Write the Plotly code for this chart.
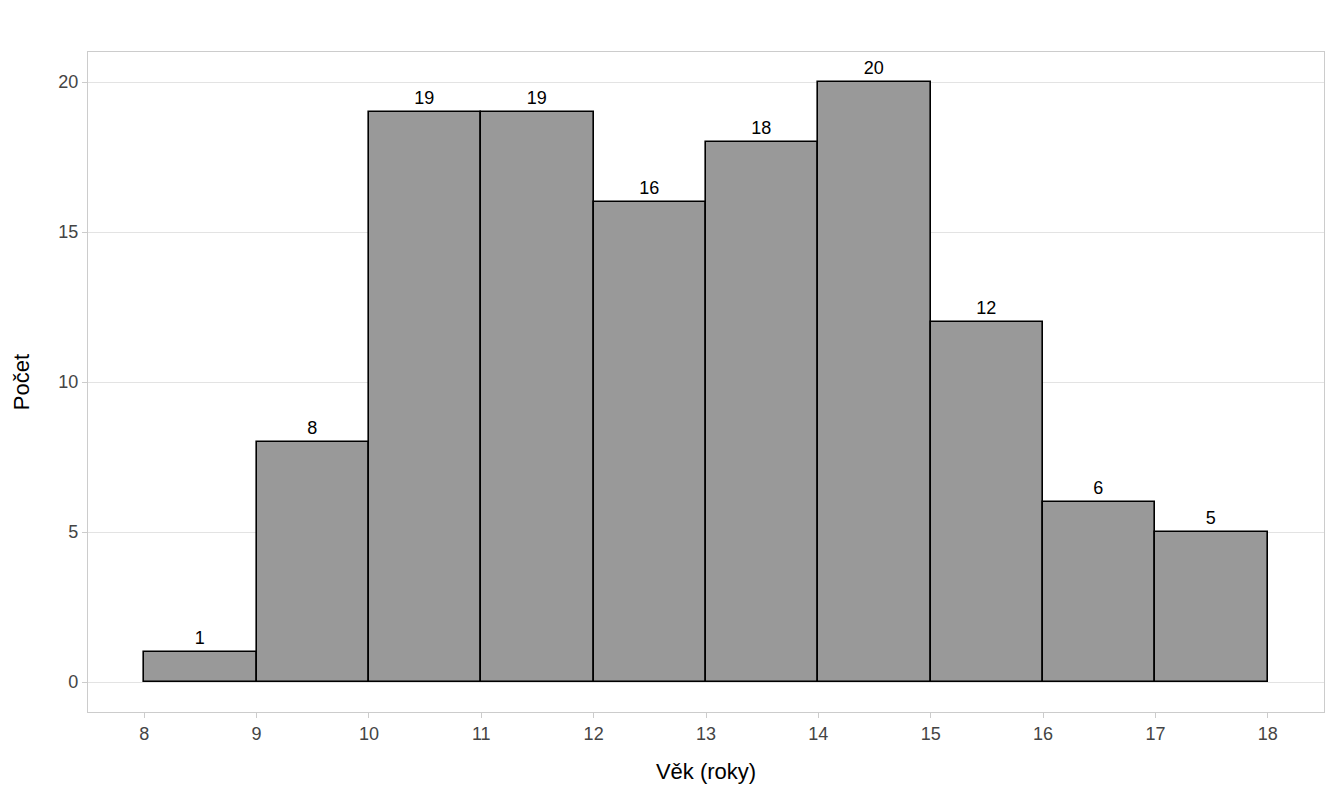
import plotly.graph_objects as go

# histogram of ages
bin_left = [8, 9, 10, 11, 12, 13, 14, 15, 16, 17]
counts = [1, 8, 19, 19, 16, 18, 20, 12, 6, 5]
x_ticks = [8, 9, 10, 11, 12, 13, 14, 15, 16, 17, 18]
y_ticks = [0, 5, 10, 15, 20]

centers = [b + 0.5 for b in bin_left]

fig = go.Figure()
fig.add_trace(
    go.Bar(
        x=centers,
        y=counts,
        width=1,
        marker=dict(color='#999999', line=dict(color='black', width=1.6)),
        text=[str(c) for c in counts],
        textposition='outside',
        textfont=dict(color='black', size=18, family='Liberation Sans'),
        cliponaxis=False,
        showlegend=False,
    )
)

# page body has an 8px margin, keep the figure inside the window (no scrollbars)
fig.update_layout(
    width=1318,
    height=784,
    margin=dict(l=80, r=2, t=44, b=80),
    plot_bgcolor='white',
    paper_bgcolor='white',
    font=dict(family='Liberation Sans', size=18, color='#444444'),
    bargap=0,
)
fig.update_xaxes(
    range=[7.5, 18.5],
    tickvals=x_ticks,
    ticks='outside',
    ticklen=5,
    tickcolor='#cccccc',
    showgrid=False,
    zeroline=False,
    showline=True,
    linecolor='#cccccc',
    linewidth=1.3,
    mirror=True,
    title=dict(text='Věk (roky)', font=dict(size=22, color='black'), standoff=20),
)
fig.update_yaxes(
    range=[-1, 21],
    tickvals=y_ticks,
    ticks='outside',
    ticklen=5,
    tickcolor='#cccccc',
    showgrid=True,
    gridcolor='#e3e3e3',
    gridwidth=1,
    zeroline=False,
    showline=True,
    linecolor='#cccccc',
    linewidth=1.3,
    mirror=True,
    title=dict(text='Počet', font=dict(size=22, color='black'), standoff=22),
)

fig.write_html("out.html")
